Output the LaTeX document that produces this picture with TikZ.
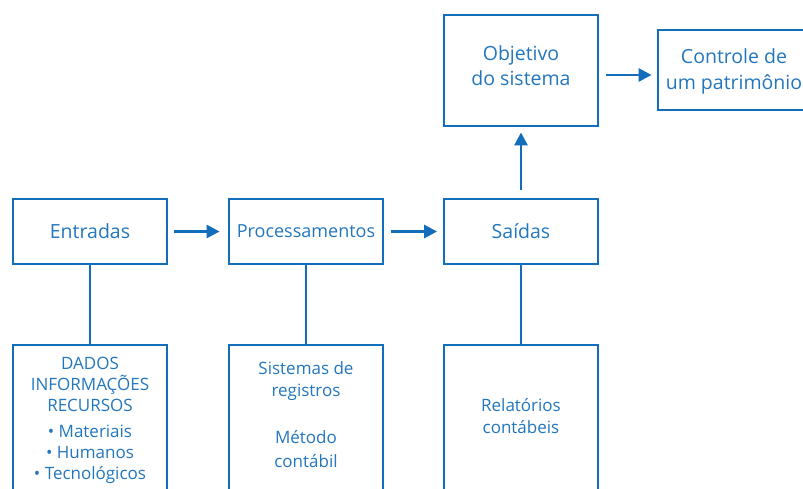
\documentclass[tikz,border=0pt]{standalone}
\usepackage{fontspec}
\setmainfont{Open Sans}
\usetikzlibrary{arrows.meta,calc}
\definecolor{bl}{RGB}{18,110,186}
\definecolor{tx}{RGB}{34,118,190}
\begin{document}
\begin{tikzpicture}[x=1pt,y=-1pt,
  box/.style={draw=bl,line width=2.8pt,inner sep=0pt,minimum width=154pt,text=tx,align=center,font=\fontsize{19.5}{24}\selectfont},
  lbl/.style={text=tx,align=center,inner sep=0pt,font=\fontsize{17}{21}\selectfont},
  arr/.style={draw=bl,line width=2.8pt,-{Triangle[length=13pt,width=13pt]}},
  conn/.style={draw=bl,line width=2.8pt}]
\useasboundingbox (0,0) rectangle (803,488);
\clip (0,0) rectangle (803,488);
\node[box,minimum height=65pt] (E) at (90,231.5) {Entradas};
\node[box,minimum height=65pt,font=\fontsize{18}{22}\selectfont] (P) at (306,231.5) {Processamentos};
\node[box,minimum height=65pt] (S) at (521,231.5) {Saídas};
\node[box,minimum height=111pt] (O) at (521,70.5) {};
\node[text=tx,align=center,inner sep=0pt,font=\fontsize{19.5}{25}\selectfont] (Ot) at (521,66) {Objetivo\\do sistema};
\node[box,minimum height=80pt,minimum width=152pt] (C) at (734,70) {};
\node[text=tx,align=center,inner sep=0pt,font=\fontsize{19.5}{26}\selectfont] (Ct) at (734,71) {Controle de\\um patrimônio};
\node[box,minimum height=175pt] (E2) at (90,432.5) {};
\node[box,minimum height=175pt] (P2) at (306,432.5) {};
\node[box,minimum height=175pt] (S2) at (521,432.5) {};
\node[lbl] (t1) at (90,384) {DADOS\\INFORMAÇÕES\\RECURSOS};
\node[lbl] (t2) at (90,454.5) {• Materiais\\• Humanos\\• Tecnológicos};
\node[lbl,font=\fontsize{17}{21.5}\selectfont] (t3) at (306,381) {Sistemas de\\registros};
\node[lbl,font=\fontsize{17}{23.5}\selectfont] (t4) at (306,449) {Método\\contábil};
\node[lbl,font=\fontsize{17}{21.5}\selectfont] (t5) at (521,416) {Relatórios\\contábeis};
\draw[arr] ([xshift=6pt]E.east) -- ([xshift=-8pt]P.west);
\draw[arr] ([xshift=7pt]P.east) -- ([xshift=-5.5pt]S.west);
\draw[arr] ([yshift=8pt]S.north) -- ([yshift=-5pt]O.south);
\draw[arr] ($(O.east)+(7,4.5)$) -- ($(O.east -| C.west)+(-5,4.5)$);
\draw[conn] (E.south) -- (E2.north);
\draw[conn] (P.south) -- (P2.north);
\draw[conn] (S.south) -- (S2.north);
\end{tikzpicture}
\end{document}
